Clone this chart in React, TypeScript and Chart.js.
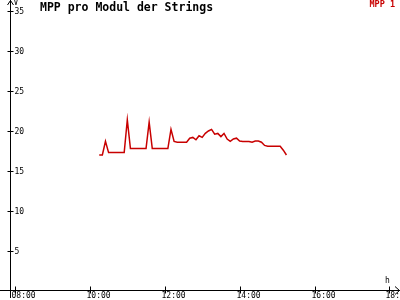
import React, { useEffect, useRef } from "react";
import { Chart, registerables } from "chart.js";

Chart.register(...registerables);

const times = [
  "10:15", "10:20", "10:25", "10:30", "10:35", "10:40", "10:45", "10:50", "10:55",
  "11:00", "11:05", "11:10", "11:15", "11:20", "11:25", "11:30", "11:35", "11:40",
  "11:45", "11:50", "11:55", "12:00", "12:05", "12:10", "12:15", "12:20", "12:25",
  "12:30", "12:35", "12:40", "12:45", "12:50", "12:55", "13:00", "13:05", "13:10",
  "13:15", "13:20", "13:25", "13:30", "13:35", "13:40", "13:45", "13:50", "13:55",
  "14:00", "14:05", "14:10", "14:15", "14:20", "14:25", "14:30", "14:35", "14:40",
  "14:45", "14:50", "14:55", "15:00", "15:05", "15:10", "15:15",
];

const mpp1 = [
  17.0, 17.0, 18.7, 17.3, 17.3, 17.3, 17.3, 17.3, 17.3,
  21.4, 17.8, 17.8, 17.8, 17.8, 17.8, 17.8, 21.1, 17.8,
  17.8, 17.8, 17.8, 17.8, 17.8, 20.2, 18.7, 18.6, 18.6,
  18.6, 18.6, 19.1, 19.2, 18.9, 19.4, 19.2, 19.7, 20.0,
  20.2, 19.6, 19.7, 19.3, 19.7, 19.0, 18.7, 19.0, 19.1,
  18.75, 18.7, 18.7, 18.7, 18.6, 18.75, 18.75, 18.6, 18.2,
  18.1, 18.1, 18.1, 18.1, 18.1, 17.6, 17.0,
];

const xTickTimes = ["08:00", "10:00", "12:00", "14:00", "16:00", "18:00"];
const yTickValues = [5, 10, 15, 20, 25, 30, 35];

const titleText = "MPP pro Modul der Strings";
const seriesName = "MPP 1";
const yUnit = "V";
const xUnit = "h";

const toMin = (t: string) => {
  const [h, m] = t.split(":").map(Number);
  return h * 60 + m;
};
const fmt = (v: number) => {
  const h = Math.floor(v / 60);
  const m = Math.round(v - h * 60);
  return String(h).padStart(2, "0") + ":" + String(m).padStart(2, "0");
};

const MONO = '"DejaVu Sans Mono", monospace';
const RED = "#c80000";

const axesPlugin = {
  id: "customAxes",
  afterDraw(chart: any) {
    const { ctx, chartArea: a, scales } = chart;
    const x = scales.x;
    const y = scales.y;
    const ax = a.left - 0.5;
    const ay = a.bottom - 0.5;
    ctx.save();
    ctx.strokeStyle = "#000";
    ctx.fillStyle = "#000";
    ctx.lineWidth = 1;
    ctx.beginPath();
    // y axis
    ctx.moveTo(ax, 0);
    ctx.lineTo(ax, 298);
    // y arrow
    ctx.moveTo(ax - 3, 5);
    ctx.lineTo(ax, 0.5);
    ctx.lineTo(ax + 3, 5);
    // x axis
    ctx.moveTo(0, ay);
    ctx.lineTo(400, ay);
    // x arrow
    ctx.moveTo(395, ay - 4);
    ctx.lineTo(399.5, ay);
    ctx.lineTo(395, ay + 4);
    ctx.stroke();

    // y ticks
    ctx.font = "8px " + MONO;
    ctx.textAlign = "left";
    ctx.textBaseline = "middle";
    y.ticks.forEach((t: any) => {
      const py = Math.round(y.getPixelForValue(t.value)) + 0.5;
      ctx.beginPath();
      ctx.moveTo(ax - 3, py);
      ctx.lineTo(ax + 3, py);
      ctx.stroke();
      ctx.fillText(String(t.value), ax + 4, py);
    });
    // x ticks
    x.ticks.forEach((t: any) => {
      const px = Math.round(x.getPixelForValue(t.value)) + 0.5;
      ctx.beginPath();
      ctx.moveTo(px, ay - 4);
      ctx.lineTo(px, ay + 3);
      ctx.stroke();
      ctx.fillText(fmt(t.value), px - 4, ay + 5);
    });
    // units
    ctx.textBaseline = "top";
    ctx.fillText(yUnit, ax + 3, -1);
    ctx.textBaseline = "bottom";
    ctx.fillText(xUnit, 385, 285);

    // title
    ctx.font = "bold 11.5px " + MONO;
    ctx.textBaseline = "middle";
    ctx.fillText(titleText, 40, 8);

    // legend
    ctx.font = "bold 8.5px " + MONO;
    ctx.fillStyle = RED;
    ctx.textAlign = "right";
    ctx.fillText(seriesName, 395, 4.5);
    ctx.restore();
  },
};

export default function App() {
  const ref = useRef<HTMLCanvasElement | null>(null);
  useEffect(() => {
    if (!ref.current) return;
    const chart = new Chart(ref.current, {
      type: "line",
      data: {
        datasets: [
          {
            label: seriesName,
            data: times.map((t, i) => ({ x: toMin(t), y: mpp1[i] })),
            borderColor: RED,
            borderWidth: 1.5,
            pointRadius: 0,
            tension: 0,
            fill: false,
          },
        ],
      },
      options: {
        animation: false,
        responsive: false,
        devicePixelRatio: 1,
        layout: { padding: { left: 11, right: 0, top: 0, bottom: 9 } },
        plugins: {
          legend: { display: false },
          title: { display: false },
          tooltip: { enabled: false },
        },
        scales: {
          x: {
            type: "linear",
            display: false,
            min: 473.6,
            max: 1097,
            afterBuildTicks: (s: any) => {
              s.ticks = xTickTimes.map((t) => ({ value: toMin(t) }));
            },
          },
          y: {
            type: "linear",
            display: false,
            min: 0,
            max: 36.375,
            afterBuildTicks: (s: any) => {
              s.ticks = yTickValues.map((v) => ({ value: v }));
            },
          },
        },
      },
      plugins: [axesPlugin],
    });
    return () => chart.destroy();
  }, []);
  return (
    <div style={{ position: "absolute", left: 0, top: 0, width: 400, height: 300, background: "#fff" }}>
      <canvas ref={ref} width={400} height={300} style={{ width: 400, height: 300 }} />
    </div>
  );
}
